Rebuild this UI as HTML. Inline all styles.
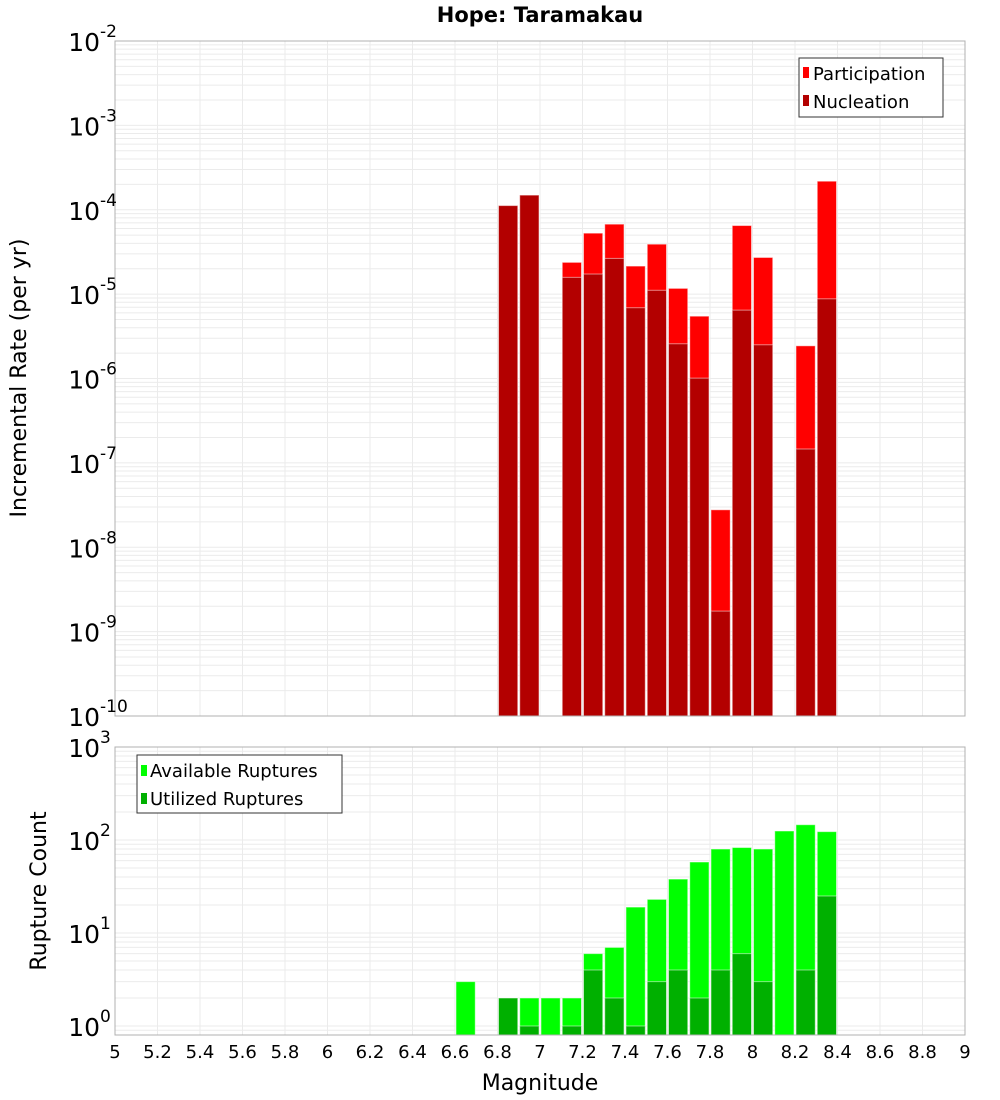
<!DOCTYPE html>
<html><head><meta charset="utf-8"><style>
body{margin:0;background:#fff;}
svg{display:block;font-family:"DejaVu Sans","Liberation Sans",sans-serif;}
</style></head><body>
<svg id="chart" width="1000" height="1100" xmlns="http://www.w3.org/2000/svg">
<text x="540" y="22" text-anchor="middle" font-size="21" font-weight="bold">Hope: Taramakau</text>
<g id="g"></g>
<text x="540" y="1090" text-anchor="middle" font-size="22">Magnitude</text>
<text transform="translate(26,378) rotate(-90)" text-anchor="middle" font-size="22">Incremental Rate (per yr)</text>
<text transform="translate(46,891) rotate(-90)" text-anchor="middle" font-size="22">Rupture Count</text>
<g>
<rect x="799" y="58" width="144" height="59" fill="#fff" stroke="#333"/>
<rect x="803" y="67" width="6" height="11" fill="#ff0000"/>
<text x="813" y="80" font-size="18">Participation</text>
<rect x="803" y="95" width="6" height="11" fill="#b30000"/>
<text x="813" y="108" font-size="18">Nucleation</text>
</g>
<g>
<rect x="137" y="755" width="205" height="58" fill="#fff" stroke="#333"/>
<rect x="141" y="765" width="6" height="11" fill="#00ff00"/>
<text x="150" y="777" font-size="18">Available Ruptures</text>
<rect x="141" y="793" width="6" height="11" fill="#00b000"/>
<text x="150" y="805" font-size="18">Utilized Ruptures</text>
</g>
</svg>
<script>
const magBins = [6.8,6.9,7.1,7.2,7.3,7.4,7.5,7.6,7.7,7.8,7.9,8.0,8.1,8.2,8.3];
const participation = [1.12e-4,1.49e-4,2.38e-5,5.28e-5,6.75e-5,2.15e-5,3.91e-5,1.17e-5,5.48e-6,2.78e-8,6.5e-5,2.72e-5,0,2.44e-6,2.18e-4];
const nucleation = [1.12e-4,1.49e-4,1.58e-5,1.73e-5,2.65e-5,6.9e-6,1.11e-5,2.58e-6,1.01e-6,1.75e-9,6.46e-6,2.51e-6,0,1.46e-7,8.8e-6];
const countBins = [6.6,6.8,6.9,7.0,7.1,7.2,7.3,7.4,7.5,7.6,7.7,7.8,7.9,8.0,8.1,8.2,8.3];
const available = [3,2,2,2,2,6,7,19,23,38,58,80,83,80,125,146,123];
const utilized = [0,2,1,0,1,4,2,1,3,4,2,4,6,3,0,4,25];
const xTicks = [5,5.2,5.4,5.6,5.8,6,6.2,6.4,6.6,6.8,7,7.2,7.4,7.6,7.8,8,8.2,8.4,8.6,8.8,9];
const topExps = [-2,-3,-4,-5,-6,-7,-8,-9,-10];
const botExps = [0,1,2,3];

const NS="http://www.w3.org/2000/svg";
const g=document.getElementById('g');
function el(tag,attrs,parent){const e=document.createElementNS(NS,tag);for(const k in attrs)e.setAttribute(k,attrs[k]);(parent||g).appendChild(e);return e;}
const X0=115,X1=965;
const xs=m=>X0+(m-5)/4*(X1-X0);
const T0=41,T1=716;
const yTop=v=>T1-(Math.log10(v)+10)*(T1-T0)/8;
const B0=747,B1=1035,BD=93,BONE=1026;
const yBot=v=>BONE-Math.log10(v)*BD;

function grid(top,bot,yf,lo,hi){
  for(let e=lo;e<=hi;e++)for(let k=1;k<10;k++){const v=k*Math.pow(10,e);const y=yf(v);if(y<top-0.5||y>bot+0.5)continue;
    const l=el('line',{x1:X0,x2:X1,y1:y,y2:y,stroke:'#ebebeb','stroke-width':1});
    
    }
  xTicks.forEach(t=>{const x=xs(t);const l=el('line',{x1:x,x2:x,y1:top,y2:bot,stroke:'#ebebeb','stroke-width':1});
    
    });
}
grid(T0,T1,yTop,-10,-3);
grid(B0,B1,yBot,-1,2);

const bw=xs(5.1)-xs(5);
function bar(m,v,yf,base,fill,name){
  if(!(v>0))return;
  const x=xs(m)+1,y=yf(v);
  const r=el('rect',{x:x,y:y,width:bw-2,height:base-y,fill:fill,stroke:'#fff','stroke-opacity':0.5,'stroke-width':1});
  
  
}
magBins.forEach((m,i)=>{bar(m,participation[i],yTop,T1,'#ff0000','participation-bar');});
magBins.forEach((m,i)=>{bar(m,nucleation[i],yTop,T1,'#b30000','nucleation-bar');});
countBins.forEach((m,i)=>{bar(m,available[i],yBot,B1,'#00ff00','available-bar');});
countBins.forEach((m,i)=>{bar(m,utilized[i],yBot,B1,'#00b000','utilized-bar');});

const f1=el('rect',{x:X0,y:T0,width:X1-X0,height:T1-T0,fill:'none',stroke:'#b0b0b0'});


const f2=el('rect',{x:X0,y:B0,width:X1-X0,height:B1-B0,fill:'none',stroke:'#b0b0b0'});



function ylab(e,y,name){
  const t=el('text',{x:40,y:y+10,'font-size':25});
  
  
  const a=el('tspan',{x:100,'text-anchor':'end'},t);a.textContent='10';
  const b=el('tspan',{x:100,'font-size':17,dy:-14},t);b.textContent=String(e);
}
topExps.forEach(e=>ylab(e,yTop(Math.pow(10,e)),'top-y-tick-label'));
botExps.forEach(e=>ylab(e,yBot(Math.pow(10,e)),'bottom-y-tick-label'));
xTicks.forEach(t=>{const tx=el('text',{x:xs(t),y:1058,'text-anchor':'middle','font-size':18});
  
  
  tx.textContent=String(t);});
</script>
</body></html>
